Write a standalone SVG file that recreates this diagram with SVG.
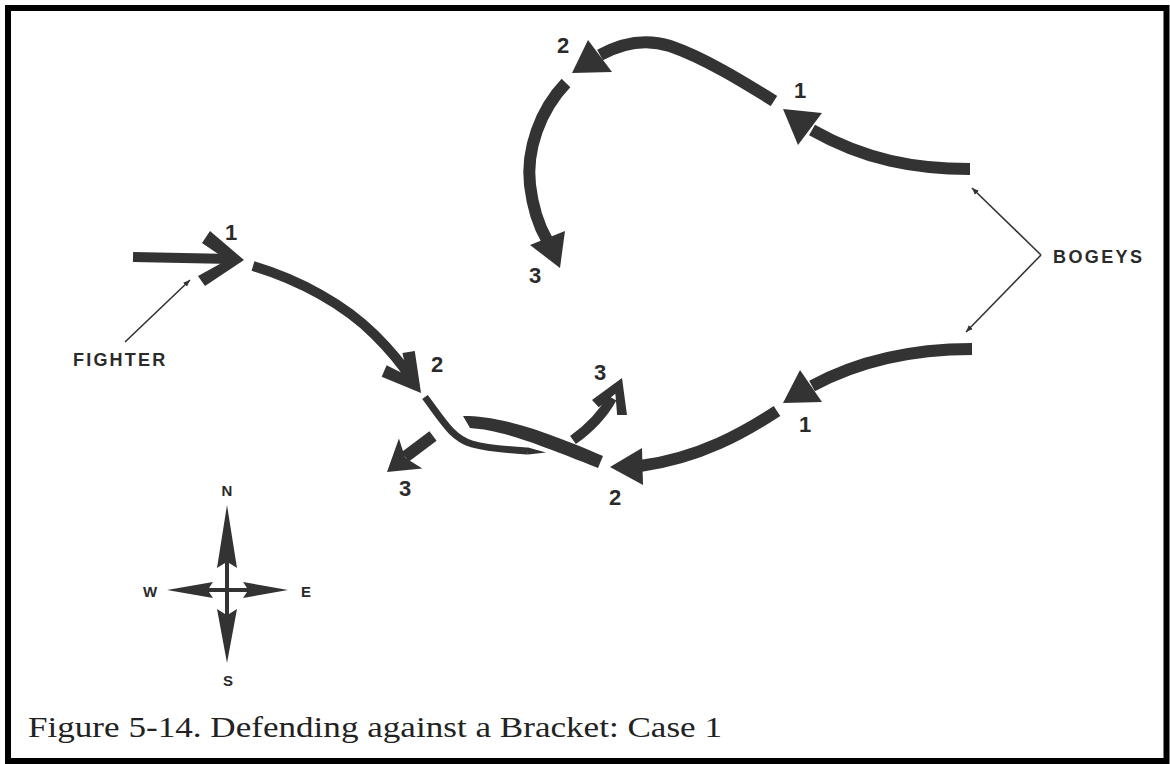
<svg xmlns="http://www.w3.org/2000/svg" width="1170" height="764" viewBox="0 0 1170 764">
  <style>
    .trk { fill: none; stroke: #333; stroke-width: 12; stroke-linecap: butt; }
    .trk-f { fill: none; stroke: #333; stroke-width: 10; stroke-linecap: butt; }
    .trk-t { fill: none; stroke: #333; stroke-width: 7; stroke-linecap: butt; }
    .head { fill: #333; stroke: none; }
    .ptr { fill: none; stroke: #333; stroke-width: 1.6; }
    .num { font-family: "Liberation Sans", Arial, sans-serif; font-weight: bold; font-size: 22px; fill: #2a2a2a; text-anchor: middle; }
    .lbl { font-family: "Liberation Sans", Arial, sans-serif; font-weight: bold; font-size: 18px; fill: #2a2a2a; }
    .cmp { font-family: "Liberation Sans", Arial, sans-serif; font-weight: bold; font-size: 15px; fill: #2a2a2a; text-anchor: middle; }
    .cap { font-family: "Liberation Serif", "Times New Roman", serif; font-size: 29px; fill: #222; }
  </style>
  <defs>
    <marker id="tip" viewBox="0 0 10 10" refX="10" refY="5" markerWidth="7" markerHeight="7" orient="auto" markerUnits="userSpaceOnUse">
      <path d="M0,1 L10,5 L0,9 Z" fill="#333"/>
    </marker>
  </defs>
  <rect x="0" y="0" width="1170" height="764" fill="#fff"/>
  <rect x="8" y="8" width="1158.5" height="753" fill="none" stroke="#000" stroke-width="6"/>

  <g id="connectors">
    <!-- north bogey track -->
    <path class="trk" d="M970,169 C915,169 865,160 812,130"/>
    <polygon class="head" points="783,109 822,113 798,145"/>
    <path class="trk" d="M774,101 C745,83 705,58 670,46 C645,38 620,44 600,55"/>
    <polygon class="head" points="572,73 588,40 612,72"/>
    <path class="trk" d="M566,83 C540,110 526,150 530,185 C533,210 540,228 547,240"/>
    <polygon class="head" points="560,268 530,245 565,231"/>

    <!-- south bogey track -->
    <path class="trk" d="M972,349 C915,349 860,360 812,386"/>
    <polygon class="head" points="783,403 800,370 822,402"/>
    <path class="trk" d="M777,411 C745,432 700,458 640,466"/>
    <polygon class="head" points="610,467 642,448 643,485"/>
    <path class="head" d="M463,416 C495,416 530,425 603,456 L598,468 C530,441 500,430 470,428 Z"/>
    <path class="trk-f" d="M573,440 C590,428 602,416 612,398"/>
    <polygon class="head" transform="translate(622,378) rotate(-67)" points="0,0 -32,-19 -36,-10 -17,0 -36,10 -32,19"/>

    <!-- fighter track -->
    <path class="trk-f" d="M133,257 L232,259"/>
    <polygon class="head" points="244,260 210,231 202,243 227,260 198,276 205,286"/>
    <path class="trk-f" d="M253,266 C300,280 345,305 375,335 C392,352 403,366 410,377"/>
    <polygon class="head" transform="translate(421,393) rotate(52)" points="0,0 -37,-21 -43,-10 -22,0 -43,10 -37,21"/>
    <path class="trk-t" d="M425,397 C443,421 452,438 472,444 C490,449 510,450 528,451"/>
    <polygon class="head" points="528,447.5 546,452.5 528,454.5"/>
    <path class="trk" d="M433,436 L405,457"/>
    <polygon class="head" transform="translate(387,472) rotate(142)" points="0,0 -30,-19 -23,0 -30,19"/>

    <!-- pointers -->
    <path class="ptr" d="M125,342 L190,280" marker-end="url(#tip)"/>
    <path class="ptr" d="M1041,255 L972,188" marker-end="url(#tip)"/>
    <path class="ptr" d="M1041,255 L966,332" marker-end="url(#tip)"/>
  </g>

  <g id="labels-north">
    <text class="num" x="563" y="53">2</text>
    <text class="num" x="800" y="98">1</text>
    <text class="num" x="535" y="283">3</text>
  </g>
  <g id="labels-south">
    <text class="num" x="805" y="432">1</text>
    <text class="num" x="615" y="505">2</text>
    <text class="num" x="600" y="380">3</text>
  </g>
  <g id="labels-fighter">
    <text class="num" x="231" y="240">1</text>
    <text class="num" x="437" y="372">2</text>
    <text class="num" x="405" y="496">3</text>
  </g>

  <g id="fighter-label">
    <text class="lbl" x="73" y="366" letter-spacing="2.2">FIGHTER</text>
  </g>
  <g id="bogeys-label">
    <text class="lbl" x="1053" y="263" letter-spacing="2.4">BOGEYS</text>
  </g>

  <g id="compass">
    <rect x="225" y="563" width="4" height="51" fill="#333"/>
    <rect x="209" y="588" width="38" height="4" fill="#333"/>
    <polygon class="head" points="227,505 237,568 229,563 225,563 217,568"/>
    <polygon class="head" points="227,663 237,609 229,614 225,614 217,609"/>
    <polygon class="head" points="167,590 213,582 209,588 209,592 213,598"/>
    <polygon class="head" points="288,590 243,582 247,588 247,592 243,598"/>
    <text class="cmp" x="227" y="496">N</text>
    <text class="cmp" x="150" y="597">W</text>
    <text class="cmp" x="306" y="597">E</text>
    <text class="cmp" x="228" y="686">S</text>
  </g>

  <g id="caption">
    <text class="cap" x="28" y="737" textLength="694" lengthAdjust="spacingAndGlyphs">Figure 5-14. Defending against a Bracket: Case 1</text>
  </g>
</svg>
